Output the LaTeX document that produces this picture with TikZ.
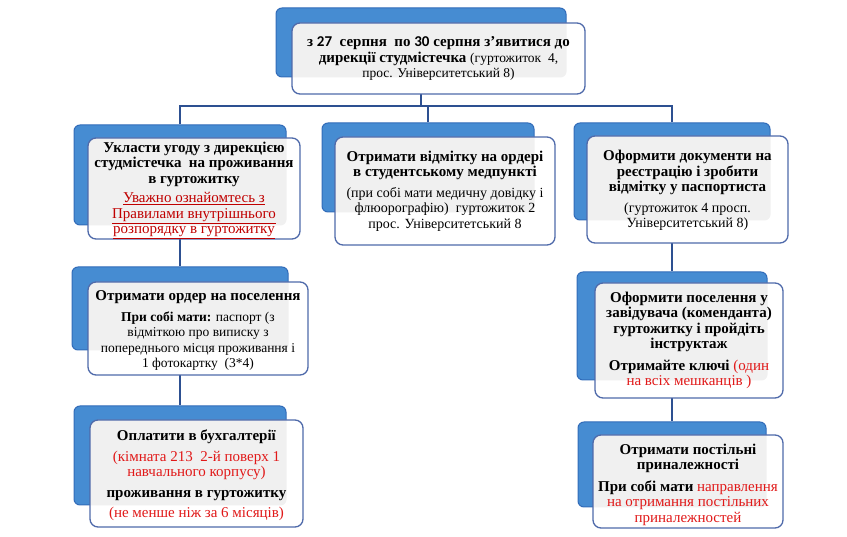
\documentclass[tikz,border=0pt]{standalone}
\usepackage{fontspec}
\setmainfont{Liberation Serif}
\newfontfamily\calib{Carlito}
\usetikzlibrary{fit}
\definecolor{backfill}{RGB}{70,140,210}
\definecolor{backline}{RGB}{50,108,185}
\definecolor{frontline}{RGB}{79,106,170}
\definecolor{overlapc}{RGB}{240,240,240}
\definecolor{connc}{RGB}{45,80,145}
\definecolor{redt}{RGB}{225,25,25}
\definecolor{dred}{RGB}{192,0,0}
\tikzset{
  backbox/.style={draw=backline, fill=backfill, line width=1pt, rounded corners=6pt, inner sep=0pt},
  frontbox/.style={draw=frontline, line width=1.3pt, rounded corners=8pt, inner sep=0pt},
  conn/.style={draw=connc, line width=1.8pt},
  txt/.style={align=center, inner sep=0pt, font=\fontsize{15}{15.5}\selectfont},
}
\newcommand\smalltxt{\fontsize{14}{14.5}\selectfont}
\newcommand\smallertxt{\fontsize{13.5}{14.5}\selectfont}
\newcommand\frontcard[5]{%
  \begin{scope}
    \clip[rounded corners=8pt] (#2,#3) rectangle (#4,#5);
    \fill[white] (#2,#3) rectangle (#4,#5);
    \fill[overlapc, rounded corners=6pt] (#1b.south west) rectangle (#1b.north east);
  \end{scope}
  \node[frontbox, fit={(#2,#3)(#4,#5)}] (#1) {};
}
\begin{document}
\begin{tikzpicture}[x=1pt, y=-1pt]
\useasboundingbox (0,0) rectangle (847,537);
% back boxes
\node[backbox, fit={(276,8)(566,77)}] (topb) {};
\node[backbox, fit={(74,125)(286,225)}] (l1b) {};
\node[backbox, fit={(322,123)(534,212)}] (m1b) {};
\node[backbox, fit={(574,123)(770,220)}] (r1b) {};
\node[backbox, fit={(72,267)(288,350)}] (l2b) {};
\node[backbox, fit={(74,406)(286,505)}] (l3b) {};
\node[backbox, fit={(577,272)(767,380)}] (r2b) {};
\node[backbox, fit={(578,422)(766,507)}] (r3b) {};
% connectors
\coordinate (bus) at (0,106);
\draw[conn] (topb.south) -- (topb.south |- bus);
\draw[conn] (l1b.north) -- (l1b.north |- bus) -- (r1b.north |- bus) -- (r1b.north);
\draw[conn] (m1b.north) -- (m1b.north |- bus);
\draw[conn] (l1b.south) -- (l1b.south |- l2b.north);
\draw[conn] (l2b.south) -- (l2b.south |- l3b.north);
\draw[conn] (r1b.south) -- (r1b.south |- r2b.north);
\draw[conn] (r2b.south) -- (r2b.south |- r3b.north);
% front boxes
\frontcard{top}{292}{23}{585}{94}
\frontcard{l1}{88}{138}{300}{239}
\frontcard{m1}{335}{137}{555}{245}
\frontcard{r1}{587}{136}{788}{243}
\frontcard{l2}{88}{282}{308}{375}
\frontcard{l3}{90}{420}{303}{527}
\frontcard{r2}{595}{283}{783}{398}
\frontcard{r3}{593}{435}{783}{528}
% texts
\node[txt] (topt) at (top.center) {\textbf{з {\calib 27}\ \ серпня\ \ по {\calib 30} серпня з'явитися до}\\ \textbf{дирекції студмістечка} {\smallertxt(гуртожиток\ \ 4,}\\ {\smallertxt прос. Університетський 8)}};
\node[txt] (l1t) at ([yshift=-2pt]l1.center) {\textbf{Укласти угоду з дирекцією}\\ \textbf{студмістечка\ \ на проживання}\\ \textbf{в гуртожитку}\\[4pt]
 {\color{dred}\underline{Уважно ознайомтесь з}}\\ {\color{dred}\underline{Правилами внутрішнього}}\\ {\color{dred}\underline{розпорядку в гуртожитку}}};
\node[txt] (m1t) at (m1.center) {\textbf{Отримати відмітку на ордері}\\ \textbf{в студентському медпункті}\\[5pt]
 {\smalltxt (при собі мати медичну довідку і}\\ {\smalltxt флюорографію)\ \ гуртожиток 2}\\ {\smalltxt прос. Університетський 8}};
\node[txt] (r1t) at ([yshift=-1pt]r1.center) {\textbf{Оформити документи на}\\ \textbf{реєстрацію і зробити}\\ \textbf{відмітку у паспортиста}\\[5pt]
 {\smalltxt (гуртожиток 4 просп.}\\ {\smalltxt Університетський 8)}};
\node[txt] (l2t) at ([yshift=-2pt]l2.center) {\textbf{Отримати ордер на поселення}\\[5pt]
 {\smallertxt\textbf{При собі мати:} паспорт (з}\\ {\smallertxt відміткою про виписку з}\\ {\smallertxt попереднього місця проживання і}\\ {\smallertxt 1 фотокартку\ \ (3*4)}};
\node[txt] (l3t) at ([yshift=-2pt]l3.center) {\textbf{Оплатити в бухгалтерії}\\[5pt]
 {\color{redt}(кімната 213\ \ 2-й поверх 1}\\ {\color{redt}навчального корпусу)}\\[5pt]
 \textbf{проживання в гуртожитку}\\[5pt] {\color{redt}(не менше ніж за 6 місяців)}};
\node[txt] (r2t) at (r2.center) {\textbf{Оформити поселення у}\\ \textbf{завідувача (коменданта)}\\ \textbf{гуртожитку і пройдіть}\\ \textbf{інструктаж}\\[6pt]
 \textbf{Отримайте ключі} {\color{redt}(один}\\ {\color{redt}на всіх мешканців )}};
\node[txt] (r3t) at ([yshift=-3pt]r3.center) {\textbf{Отримати постільні}\\ \textbf{приналежності}\\[6pt]
 \textbf{При собі мати} {\color{redt}направлення}\\ {\color{redt}на отримання постільних}\\ {\color{redt}приналежностей}};
\end{tikzpicture}
\end{document}
